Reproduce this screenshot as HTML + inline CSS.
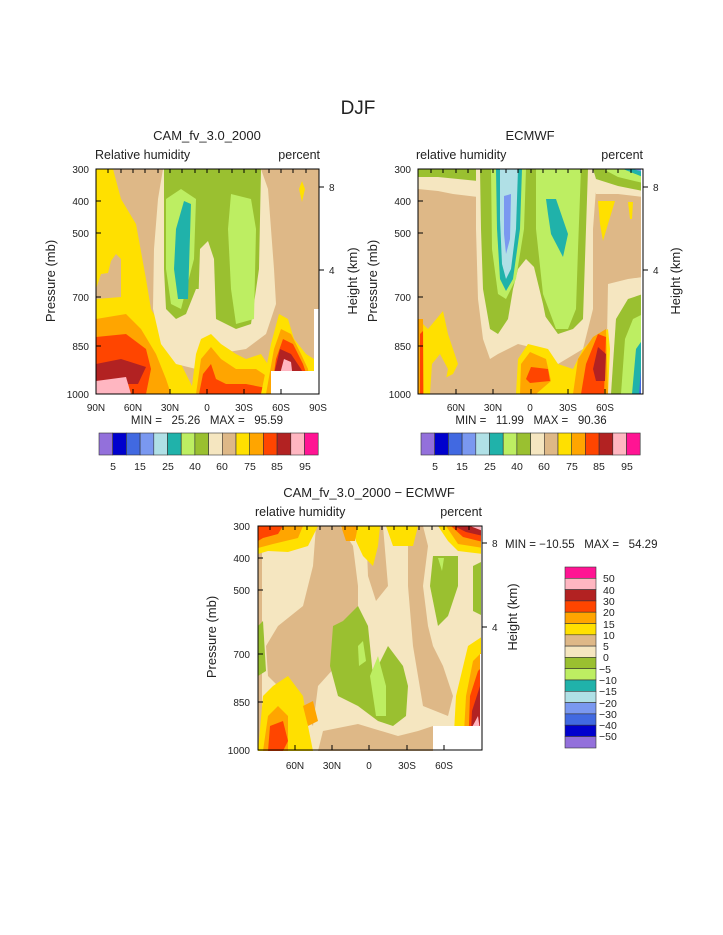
<!DOCTYPE html>
<html><head><meta charset="utf-8"><style>
html,body{margin:0;padding:0;background:#fff}
svg{display:block}
text{font-family:"Liberation Sans",sans-serif;fill:#222;white-space:pre}
</style></head><body>
<svg width="723" height="935" viewBox="0 0 723 935" xmlns="http://www.w3.org/2000/svg">
<defs>
<clipPath id="c1"><rect x="0" y="0" width="223" height="225"/></clipPath>
</defs>
<text x="358" y="114" font-size="19" text-anchor="middle">DJF</text>

<text x="207" y="140" font-size="13" text-anchor="middle">CAM_fv_3.0_2000</text>
<text x="95" y="159" font-size="12.5">Relative humidity</text>
<text x="320" y="159" font-size="12.5" text-anchor="end">percent</text>
<g transform="translate(96,169)" clip-path="url(#c1)">
<rect width="223" height="225" fill="#DEB887"/>
<polygon fill="#FFE000" points="0,0 17,0 25,30 40,55 50,110 55,140 75,175 90,205 100,225 0,225"/>
<polygon fill="#DEB887" points="0,120 5,105 12,104 15,92 20,85 25,90 25,128 0,130"/>
<polygon fill="#FFA500" points="0,150 30,145 45,160 60,185 70,210 75,225 0,225"/>
<polygon fill="#FF4500" points="0,168 30,165 50,180 55,200 50,225 0,225"/>
<polygon fill="#B22222" points="0,195 25,190 50,198 42,215 0,215"/>
<polygon fill="#FFB6C1" points="0,212 30,208 35,225 0,225"/>
<polygon fill="#F5E6C0" points="67,0 165,0 172,20 178,100 180,135 170,165 150,180 120,185 100,200 80,195 65,175 57,140 58,80 62,30"/>
<polygon fill="#9AC030" points="68,0 165,0 163,100 155,155 140,160 120,150 110,120 100,120 90,145 80,150 70,140 68,100"/>
<polygon fill="#F5E6C0" points="102,142 104,80 112,72 118,90 120,150 110,150"/>
<polygon fill="#BDEE62" points="70,30 85,20 100,30 98,90 85,140 75,135 70,100"/>
<polygon fill="#BDEE62" points="135,25 155,30 160,60 158,150 140,155 135,120 132,60"/>
<polygon fill="#20B2AA" points="80,60 88,32 95,35 92,130 82,130 78,100"/>
<polygon fill="#FFE000" points="95,225 100,185 105,170 115,165 125,175 140,185 150,190 165,185 175,200 180,225"/>
<polygon fill="#FFA500" points="100,225 105,190 115,178 125,190 140,200 160,200 175,210 180,225"/>
<polygon fill="#FF4500" points="103,225 107,205 115,195 120,210 130,215 150,215 175,220 178,225"/>
<polygon fill="#FFE000" points="165,225 175,175 183,145 192,150 198,170 210,185 218,190 218,225"/>
<polygon fill="#FFA500" points="170,225 178,180 185,160 195,165 205,185 212,200 215,225"/>
<polygon fill="#FF4500" points="175,225 180,190 187,170 197,175 207,195 212,210 200,225"/>
<polygon fill="#B22222" points="178,205 184,180 195,185 205,200 210,210 180,212"/>
<polygon fill="#FFB6C1" points="184,205 188,190 195,193 197,210 185,212"/>
<polygon fill="#FFE000" points="203,20 206,12 209,20 206,33"/>
<rect x="175" y="202" width="50" height="25" fill="#fff"/>
<rect x="218" y="140" width="6" height="90" fill="#fff"/>
</g>
<g fill="none" stroke="#000" stroke-width="1">
<rect x="96" y="169" width="223" height="225"/>
<path d="M96,169h5M96,201h5M96,233h5M96,297h5M96,346h5M96,394h5M319,187h5M319,270h5
M96,394v-5M133,394v-5M170,394v-5M207,394v-5M244,394v-5M281,394v-5
M96,169v4M108,169v4M121,169v4M133,169v4M145,169v4M158,169v4M170,169v4M182,169v4M195,169v4M207,169v4M219,169v4M232,169v4M244,169v4M256,169v4M269,169v4M281,169v4M293,169v4M306,169v4"/>
</g>
<g font-size="10" text-anchor="end">
<text x="89" y="173">300</text><text x="89" y="205">400</text><text x="89" y="237">500</text><text x="89" y="301">700</text><text x="89" y="350">850</text><text x="89" y="398">1000</text>
</g>
<g font-size="10"><text x="329" y="191">8</text><text x="329" y="274">4</text></g>
<g font-size="10" text-anchor="middle">
<text x="96" y="411">90N</text><text x="133" y="411">60N</text><text x="170" y="411">30N</text><text x="207" y="411">0</text><text x="244" y="411">30S</text><text x="281" y="411">60S</text><text x="318" y="411">90S</text>
</g>
<text x="207" y="424" font-size="11.5" text-anchor="middle">MIN =   25.26   MAX =   95.59</text>
<text transform="translate(55,281) rotate(-90)" font-size="13" text-anchor="middle">Pressure (mb)</text>
<text transform="translate(357,281) rotate(-90)" font-size="13" text-anchor="middle">Height (km)</text>

<g transform="translate(99,433)" stroke="#333" stroke-width="0.6">
<rect x="0" width="13.7" height="22" fill="#9370DB"/><rect x="13.7" width="13.7" height="22" fill="#0000CD"/><rect x="27.4" width="13.7" height="22" fill="#4169E1"/><rect x="41.1" width="13.7" height="22" fill="#7A98F0"/><rect x="54.8" width="13.7" height="22" fill="#B0E0E6"/><rect x="68.5" width="13.7" height="22" fill="#20B2AA"/><rect x="82.2" width="13.7" height="22" fill="#BDEE62"/><rect x="95.9" width="13.7" height="22" fill="#9AC030"/><rect x="109.6" width="13.7" height="22" fill="#F5E6C0"/><rect x="123.3" width="13.7" height="22" fill="#DEB887"/><rect x="137" width="13.7" height="22" fill="#FFE000"/><rect x="150.7" width="13.7" height="22" fill="#FFA500"/><rect x="164.4" width="13.7" height="22" fill="#FF4500"/><rect x="178.1" width="13.7" height="22" fill="#B22222"/><rect x="191.8" width="13.7" height="22" fill="#FFB6C1"/><rect x="205.5" width="13.7" height="22" fill="#FF1493"/>
</g>
<g font-size="10.5" text-anchor="middle">
<text x="113" y="470">5</text><text x="140" y="470">15</text><text x="168" y="470">25</text><text x="195" y="470">40</text><text x="222" y="470">60</text><text x="250" y="470">75</text><text x="277" y="470">85</text><text x="305" y="470">95</text>
</g>

<text x="530" y="140" font-size="13" text-anchor="middle">ECMWF</text>
<text x="416" y="159" font-size="12.5">relative humidity</text>
<text x="643" y="159" font-size="12.5" text-anchor="end">percent</text>
<g transform="translate(418,169)" clip-path="url(#c1)">
<rect width="225" height="225" fill="#DEB887"/>
<polygon fill="#F5E6C0" points="0,0 60,0 60,28 35,25 20,22 0,20"/>
<polygon fill="#9AC030" points="0,0 60,0 60,12 20,8 0,8"/>
<polygon fill="#F5E6C0" points="58,0 172,0 178,20 175,60 175,140 165,180 140,195 120,180 100,175 80,185 72,190 65,170 60,130 58,60"/>
<polygon fill="#9AC030" points="62,0 170,0 168,60 165,150 155,160 140,165 122,140 112,105 100,100 95,120 90,150 80,165 72,160 65,120 63,60"/>
<polygon fill="#F5E6C0" points="96,160 100,100 108,90 116,98 125,135 130,160 112,165"/>
<polygon fill="#BDEE62" points="73,0 108,0 106,60 98,110 88,130 80,125 74,80"/>
<polygon fill="#20B2AA" points="78,0 104,0 102,60 95,110 88,122 82,110 79,60"/>
<polygon fill="#B0E0E6" points="82,0 100,0 98,60 93,100 88,110 84,95 82,50"/>
<polygon fill="#7A98F0" points="86,27 93,25 92,70 88,85 86,65"/>
<polygon fill="#BDEE62" points="118,0 163,0 160,80 158,140 150,160 138,160 125,125 118,60"/>
<polygon fill="#20B2AA" points="128,30 138,30 150,65 145,88 133,65 130,45"/>
<polygon fill="#F5E6C0" points="172,0 225,0 225,28 200,25 178,25"/>
<polygon fill="#9AC030" points="175,0 225,0 225,22 200,17 178,10"/>
<polygon fill="#BDEE62" points="185,0 225,0 225,14 200,8"/>
<polygon fill="#20B2AA" points="205,0 225,0 225,8"/>
<polygon fill="#7A98F0" points="215,0 225,0 225,3"/>
<polygon fill="#FFE000" points="180,32 197,32 190,55 185,72 182,55"/>
<polygon fill="#FFE000" points="210,33 215,33 214,50 212,50"/>
<polygon fill="#F5E6C0" points="188,225 190,115 210,110 225,108 225,130 198,150 195,225"/>
<polygon fill="#9AC030" points="193,225 198,150 210,130 225,125 225,225"/>
<polygon fill="#BDEE62" points="203,225 207,170 215,150 225,145 225,225"/>
<polygon fill="#20B2AA" points="214,225 218,180 225,170 225,225"/>
<polygon fill="#4169E1" points="221,225 223,200 225,195 225,225"/>
<polygon fill="#FFE000" points="0,150 10,160 25,142 30,165 40,195 35,205 25,210 18,225 0,225"/>
<polygon fill="#DEB887" points="12,225 14,195 22,185 30,200 25,225"/>
<polygon fill="#FFA500" points="0,150 5,150 6,225 0,225"/>
<polygon fill="#FF4500" points="2,165 5,162 5,225 2,225"/>
<polygon fill="#FFE000" points="98,225 100,190 110,175 130,180 140,195 155,200 165,180 175,170 190,160 192,180 190,225"/>
<polygon fill="#FFA500" points="102,225 103,195 112,183 128,190 133,212 118,225"/>
<polygon fill="#FF4500" points="108,210 113,198 130,200 132,212 112,214"/>
<polygon fill="#FFA500" points="155,225 160,190 175,168 188,160 190,225"/>
<polygon fill="#FF4500" points="163,225 168,195 180,165 188,168 186,225"/>
<polygon fill="#B22222" points="175,200 180,178 188,185 187,212 178,212"/>
</g>
<g fill="none" stroke="#000" stroke-width="1">
<rect x="418" y="169" width="225" height="225"/>
<path d="M418,169h5M418,201h5M418,233h5M418,297h5M418,346h5M418,394h5M643,187h5M643,270h5
M456,394v-5M493,394v-5M531,394v-5M568,394v-5M605,394v-5
M431,169v4M443,169v4M456,169v4M468,169v4M481,169v4M493,169v4M506,169v4M518,169v4M531,169v4M543,169v4M556,169v4M568,169v4M581,169v4M593,169v4M606,169v4M618,169v4M631,169v4"/>
</g>
<g font-size="10" text-anchor="end">
<text x="411" y="173">300</text><text x="411" y="205">400</text><text x="411" y="237">500</text><text x="411" y="301">700</text><text x="411" y="350">850</text><text x="411" y="398">1000</text>
</g>
<g font-size="10"><text x="653" y="191">8</text><text x="653" y="274">4</text></g>
<g font-size="10" text-anchor="middle">
<text x="456" y="411">60N</text><text x="493" y="411">30N</text><text x="530" y="411">0</text><text x="568" y="411">30S</text><text x="605" y="411">60S</text>
</g>
<text x="531" y="424" font-size="11.5" text-anchor="middle">MIN =   11.99   MAX =   90.36</text>
<text transform="translate(377,281) rotate(-90)" font-size="13" text-anchor="middle">Pressure (mb)</text>
<text transform="translate(680,281) rotate(-90)" font-size="13" text-anchor="middle">Height (km)</text>

<g transform="translate(421,433)" stroke="#333" stroke-width="0.6">
<rect x="0" width="13.7" height="22" fill="#9370DB"/><rect x="13.7" width="13.7" height="22" fill="#0000CD"/><rect x="27.4" width="13.7" height="22" fill="#4169E1"/><rect x="41.1" width="13.7" height="22" fill="#7A98F0"/><rect x="54.8" width="13.7" height="22" fill="#B0E0E6"/><rect x="68.5" width="13.7" height="22" fill="#20B2AA"/><rect x="82.2" width="13.7" height="22" fill="#BDEE62"/><rect x="95.9" width="13.7" height="22" fill="#9AC030"/><rect x="109.6" width="13.7" height="22" fill="#F5E6C0"/><rect x="123.3" width="13.7" height="22" fill="#DEB887"/><rect x="137" width="13.7" height="22" fill="#FFE000"/><rect x="150.7" width="13.7" height="22" fill="#FFA500"/><rect x="164.4" width="13.7" height="22" fill="#FF4500"/><rect x="178.1" width="13.7" height="22" fill="#B22222"/><rect x="191.8" width="13.7" height="22" fill="#FFB6C1"/><rect x="205.5" width="13.7" height="22" fill="#FF1493"/>
</g>
<g font-size="10.5" text-anchor="middle">
<text x="435" y="470">5</text><text x="462" y="470">15</text><text x="490" y="470">25</text><text x="517" y="470">40</text><text x="544" y="470">60</text><text x="572" y="470">75</text><text x="599" y="470">85</text><text x="627" y="470">95</text>
</g>

<text x="369" y="497" font-size="13" text-anchor="middle">CAM_fv_3.0_2000 − ECMWF</text>
<text x="255" y="516" font-size="12.5">relative humidity</text>
<text x="482" y="516" font-size="12.5" text-anchor="end">percent</text>
<g transform="translate(258,526)" clip-path="url(#c1)">
<rect width="225" height="225" fill="#F5E6C0"/>
<rect x="0" y="0" width="4" height="225" fill="#DEB887"/>
<polygon fill="#DEB887" points="58,0 82,0 95,20 100,60 100,80 88,100 78,140 60,160 55,200 40,180 20,160 10,150 8,120 20,100 45,80 55,40"/>
<polygon fill="#DEB887" points="108,0 125,0 130,60 118,75 110,50"/>
<polygon fill="#DEB887" points="150,0 165,0 170,20 165,60 170,100 175,120 185,140 195,170 190,190 165,180 160,150 155,120 150,60"/>
<polygon fill="#FFE000" points="0,0 60,0 50,20 30,26 10,25 0,28"/>
<polygon fill="#FFA500" points="0,0 45,0 40,12 15,18 0,22"/>
<polygon fill="#FF4500" points="0,0 25,0 20,8 5,12 0,15"/>
<polygon fill="#FFE000" points="96,0 122,0 120,20 115,40 105,30 98,15"/>
<polygon fill="#FFA500" points="83,0 100,0 97,15 88,15"/>
<polygon fill="#FFE000" points="128,0 160,0 155,20 135,20"/>
<polygon fill="#FFE000" points="180,0 225,0 225,28 200,25 190,15"/>
<polygon fill="#FFA500" points="188,0 225,0 225,22 200,18"/>
<polygon fill="#FF4500" points="193,0 225,0 225,16 205,11"/>
<polygon fill="#B22222" points="196,0 225,0 225,10 208,6"/>
<polygon fill="#FFB6C1" points="212,0 225,0 225,5"/>
<polygon fill="#9AC030" points="75,100 85,95 100,80 110,100 115,150 125,130 130,120 145,140 150,160 148,190 135,200 120,195 100,180 80,170 72,140"/>
<polygon fill="#BDEE62" points="112,150 120,130 128,160 128,190 118,190"/>
<polygon fill="#BDEE62" points="100,120 105,115 108,135 101,140"/>
<polygon fill="#9AC030" points="175,30 200,30 200,60 190,90 180,100 172,60"/>
<polygon fill="#BDEE62" points="180,32 186,32 184,45"/>
<polygon fill="#9AC030" points="215,40 225,35 225,90 215,85"/>
<polygon fill="#9AC030" points="0,100 5,95 8,145 0,150"/>
<polygon fill="#FFE000" points="195,225 198,170 210,120 225,110 225,225"/>
<polygon fill="#FFA500" points="205,225 208,170 215,135 225,125 225,225"/>
<polygon fill="#FF4500" points="210,225 212,170 220,145 225,140 225,225"/>
<polygon fill="#B22222" points="212,225 214,185 222,160 225,158 225,225"/>
<polygon fill="#FFB6C1" points="212,205 220,190 223,212 213,212"/>
<polygon fill="#DEB887" points="60,225 65,205 100,198 140,210 160,205 175,200 175,225"/>
<polygon fill="#FFE000" points="0,225 5,170 15,160 30,150 45,170 50,200 55,225"/>
<polygon fill="#FFA500" points="5,225 10,190 20,180 30,190 30,225"/>
<polygon fill="#FF4500" points="10,225 12,200 25,195 30,215 25,225"/>
<polygon fill="#FFA500" points="45,180 55,175 60,195 50,200"/>
<rect x="175" y="200" width="50" height="25" fill="#fff"/>
<rect x="222" y="128" width="4" height="100" fill="#fff"/>
</g>
<g fill="none" stroke="#000" stroke-width="1">
<rect x="258" y="526" width="224" height="224"/>
<path d="M258,526h5M258,558h5M258,590h5M258,654h5M258,702h5M258,750h5M482,543h5M482,627h5
M295,750v-5M332,750v-5M369,750v-5M407,750v-5M444,750v-5
M270,526v4M283,526v4M295,526v4M307,526v4M320,526v4M332,526v4M345,526v4M357,526v4M369,526v4M382,526v4M394,526v4M407,526v4M419,526v4M432,526v4M444,526v4M456,526v4M469,526v4"/>
</g>
<g font-size="10" text-anchor="end">
<text x="250" y="530">300</text><text x="250" y="562">400</text><text x="250" y="594">500</text><text x="250" y="658">700</text><text x="250" y="706">850</text><text x="250" y="754">1000</text>
</g>
<g font-size="10"><text x="492" y="547">8</text><text x="492" y="631">4</text></g>
<text x="505" y="548" font-size="11.5">MIN = −10.55   MAX =   54.29</text>
<g font-size="10" text-anchor="middle">
<text x="295" y="769">60N</text><text x="332" y="769">30N</text><text x="369" y="769">0</text><text x="407" y="769">30S</text><text x="444" y="769">60S</text>
</g>
<text transform="translate(216,637) rotate(-90)" font-size="13" text-anchor="middle">Pressure (mb)</text>
<text transform="translate(517,617) rotate(-90)" font-size="13" text-anchor="middle">Height (km)</text>

<g transform="translate(565,567)" stroke="#333" stroke-width="0.6">
<rect y="0" width="31" height="11.3" fill="#FF1493"/><rect y="11.3" width="31" height="11.3" fill="#FFB6C1"/><rect y="22.6" width="31" height="11.3" fill="#B22222"/><rect y="33.9" width="31" height="11.3" fill="#FF4500"/><rect y="45.2" width="31" height="11.3" fill="#FFA500"/><rect y="56.5" width="31" height="11.3" fill="#FFE000"/><rect y="67.8" width="31" height="11.3" fill="#DEB887"/><rect y="79.1" width="31" height="11.3" fill="#F5E6C0"/><rect y="90.4" width="31" height="11.3" fill="#9AC030"/><rect y="101.7" width="31" height="11.3" fill="#BDEE62"/><rect y="113" width="31" height="11.3" fill="#20B2AA"/><rect y="124.3" width="31" height="11.3" fill="#B0E0E6"/><rect y="135.6" width="31" height="11.3" fill="#7A98F0"/><rect y="146.9" width="31" height="11.3" fill="#4169E1"/><rect y="158.2" width="31" height="11.3" fill="#0000CD"/><rect y="169.5" width="31" height="11.5" fill="#9370DB"/>
</g>
<g font-size="10.5">
<text x="603" y="582">50</text><text x="603" y="594">40</text><text x="603" y="605">30</text><text x="603" y="616">20</text><text x="603" y="628">15</text><text x="603" y="639">10</text><text x="603" y="650">5</text><text x="603" y="661">0</text><text x="599" y="673">−5</text><text x="599" y="684">−10</text><text x="599" y="695">−15</text><text x="599" y="707">−20</text><text x="599" y="718">−30</text><text x="599" y="729">−40</text><text x="599" y="740">−50</text>
</g>
</svg>
</body></html>
